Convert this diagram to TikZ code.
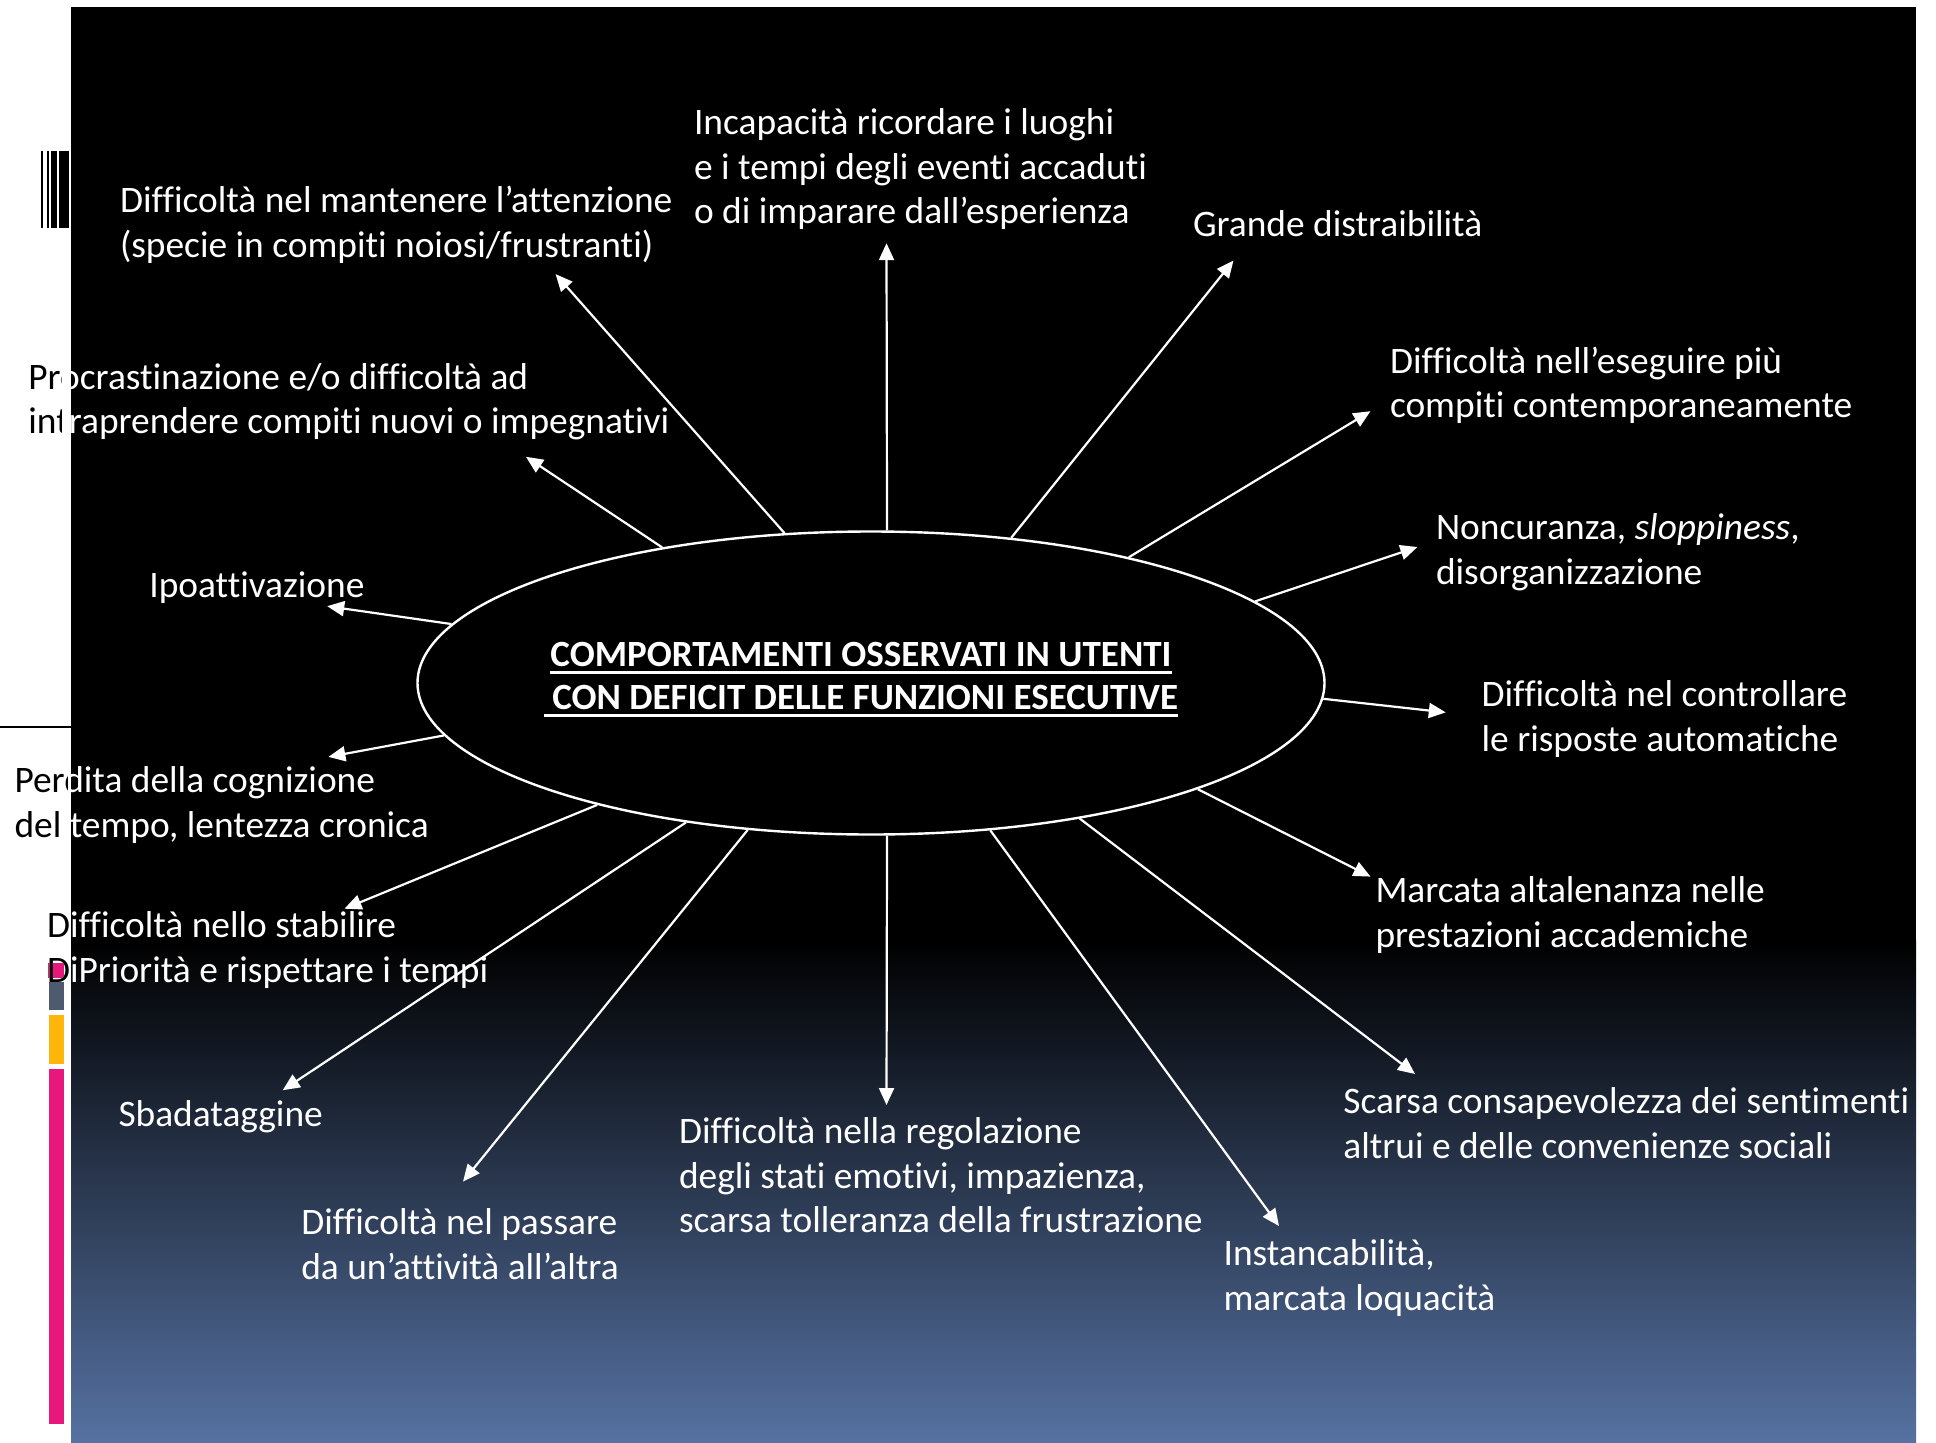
\documentclass[tikz,border=0pt]{standalone}
\usepackage{fontspec}
\setmainfont{Carlito}[Ligatures=NoCommon]
\usetikzlibrary{shapes.geometric,arrows.meta}

\definecolor{deepslate}{RGB}{86,114,162}
\definecolor{barpink}{RGB}{232,23,124}
\definecolor{bargold}{RGB}{255,181,10}
\definecolor{bargray}{RGB}{80,90,110}

% thick underline for the central heading
\newcommand\thickul[1]{\setbox0\hbox{#1}\rlap{\rule[-7.5pt]{\wd0}{3pt}}\box0}

\tikzset{
  item/.style={text=white, font=\fontsize{37.4}{44.5}\selectfont, align=left,
               anchor=base west, inner sep=0pt, outer sep=0pt},
  itemdark/.style={item, text=black},
  ray/.style={draw=white, line width=2.2pt, -{Triangle[length=17pt,width=15pt]}},
  hub/.style={ellipse, draw=white, fill=black, line width=2.4pt,
              minimum width=907pt, minimum height=303pt, inner sep=0pt},
  heading/.style={text=white, font=\bfseries\fontsize{37}{43.5}\selectfont,
                  align=center, anchor=base, inner sep=0pt},
}

\begin{document}
\begin{tikzpicture}[x=1pt, y=-1pt]
  \useasboundingbox (0,0) rectangle (1936,1443);
  \fill[white] (0,0) rectangle (1936,1443);

  % dark panel with its blue fade towards the bottom
  \fill[black] (71,7) rectangle (1916,941);
  \shade[top color=black, bottom color=deepslate] (71,940) rectangle (1916,1443);

  % barcode mark on the left margin
  \foreach \a/\b in {41/43, 47/48.7, 51/57, 59/69}
    \fill[black] (\a,151) rectangle (\b,228);

  % thin rule on the left margin
  \draw[black, line width=1.5pt] (0,727) -- (71,727);

  % coloured bars on the left margin
  \fill[barpink] (48,963) rectangle (64,978);
  \fill[bargray] (49,982) rectangle (64,1010);
  \fill[bargold] (49,1015) rectangle (64,1064);
  \fill[barpink] (49,1069) rectangle (64,1424);

  % central ellipse and heading (base = last line)
  \node[hub] (hub) at (871,683) {};
  \node[heading] (ttl) at (861,709.5)
    {\thickul{COMPORTAMENTI OSSERVATI IN UTENTI}\\\thickul{\ CON DEFICIT DELLE FUNZIONI ESECUTIVE}};

  % arrow tips
  \coordinate (ta) at (555.6,274.1);
  \coordinate (tb) at (886.5,243.2);
  \coordinate (tc) at (1233.5,260.5);
  \coordinate (td) at (1370.5,411.2);
  \coordinate (te) at (526,456.8);
  \coordinate (tf) at (1417.4,547);
  \coordinate (tg) at (327.2,606.2);
  \coordinate (th) at (1445.8,712.4);
  \coordinate (ti) at (328.4,756.9);
  \coordinate (tj) at (1370.5,876.6);
  \coordinate (tk) at (344.5,908.7);
  \coordinate (tl) at (282.7,1090.2);
  \coordinate (tm) at (463,1181.6);
  \coordinate (tn) at (886.5,1105);
  \coordinate (to) at (1279,1226);
  \coordinate (tp) at (1415,1074);

  \draw[ray] (hub.120.7) -- (ta);
  \draw[ray] (hub.84.4)  -- (tb);
  \draw[ray] (hub.46.5)  -- (tc);
  \draw[ray] (hub.26)    -- (td);
  \draw[ray] (hub.147.5) -- (te);
  \draw[ray] (hub.12.4)  -- (tf);
  \draw[ray] (hub.172.7) -- (tg);
  \draw[ray] (hub.-2)    -- (th);
  \draw[ray] (hub.187.3) -- (ti);
  \draw[ray] (hub.-18.75) -- (tj);
  \draw[ray] (hub.204)   -- (tk);
  \draw[ray] (hub.217.3) -- (tl);
  \draw[ray] (hub.230.4) -- (tm);
  \draw[ray] (hub.276.1) -- (tn);
  \draw[ray] (hub.309.9) -- (to);
  \draw[ray] (hub.327.7) -- (tp);

  % labels (anchored at the baseline of their last line)
  \node[item] (l1) at (694,223.5) {Incapacità ricordare i luoghi\\e i tempi degli eventi accaduti\\o di imparare dall’esperienza};
  \node[item] (l2) at (120,257) {Difficoltà nel mantenere l’attenzione\\(specie in compiti noiosi/frustranti)};
  \node[item] (l3) at (1193,236) {Grande distraibilità};
  \node[item] (l4) at (1390,417.5) {Difficoltà nell’eseguire più\\compiti contemporaneamente};
  \node[item] (l5) at (28.4,433.6) {Procrastinazione e/o difficoltà ad\\intraprendere compiti nuovi o impegnativi};
  \node[item] (l6) at (1436,584) {Noncuranza, \textit{sloppiness},\\disorganizzazione};
  \node[item] (l7) at (149.4,597.5) {Ipoattivazione};
  \node[item] (l8) at (1481.6,751) {Difficoltà nel controllare\\le risposte automatiche};
  \node[item] (l9) at (14.5,837) {Perdita della cognizione\\del tempo, lentezza cronica};
  \node[item] (l10) at (1375.5,947) {Marcata altalenanza nelle\\prestazioni accademiche};
  \node[item] (l11) at (47,982) {Difficoltà nello stabilire\\DiPriorità e rispettare i tempi};
  \node[item] (l12) at (118.5,1126.5) {Sbadataggine};
  \node[item] (l13) at (301.3,1279) {Difficoltà nel passare\\da un’attività all’altra};
  \node[item] (l14) at (679,1232.5) {Difficoltà nella regolazione\\degli stati emotivi, impazienza,\\scarsa tolleranza della frustrazione};
  \node[item] (l15) at (1223.6,1310) {Instancabilità,\\marcata loquacità};
  \node[item] (l16) at (1343.4,1158) {Scarsa consapevolezza dei sentimenti\\altrui e delle convenienze sociali};

  % the parts of the left labels that fall on the white margin
  \begin{scope}
    \clip (0,0) rectangle (61,1443);
    \node[itemdark] (l5m) at (28.4,433.6) {Procrastinazione e/o difficoltà ad\\intraprendere compiti nuovi o impegnativi};
  \end{scope}
  \begin{scope}
    \clip (0,0) rectangle (67,1443);
    \node[itemdark] (l9m) at (14.5,837) {Perdita della cognizione\\del tempo, lentezza cronica};
  \end{scope}
  \begin{scope}
    \clip (0,0) rectangle (70,1443);
    \node[itemdark] (l11m) at (47,982) {Difficoltà nello stabilire\\DiPriorità e rispettare i tempi};
  \end{scope}
\end{tikzpicture}
\end{document}
